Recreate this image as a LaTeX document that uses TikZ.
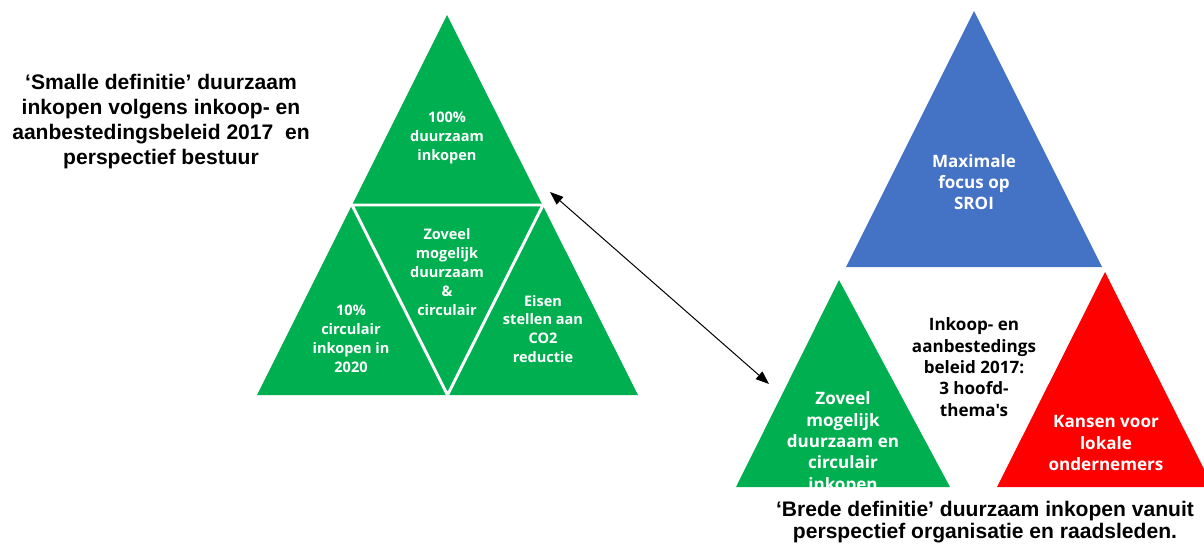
\documentclass[tikz,border=0pt]{standalone}
\usepackage{fontspec}
\setmainfont{Liberation Sans}
\newfontfamily\trifont{Open Sans}
\usetikzlibrary{arrows.meta}
\definecolor{groen}{HTML}{00B050}
\definecolor{blauw}{HTML}{4472C4}
\definecolor{rood}{HTML}{FF0000}
\tikzset{
  klein/.style={align=center, text=white, inner sep=0pt,
    font=\trifont\bfseries\fontsize{10.9}{14.2}\selectfont},
  groot/.style={align=center, text=white, inner sep=0pt,
    font=\trifont\bfseries\fontsize{12.8}{16}\selectfont},
  titel/.style={align=center, inner sep=0pt,
    font=\bfseries\fontsize{15.8}{18.75}\selectfont},
  scheiding/.style={draw=white, line width=2.2pt, line join=miter},
}
\begin{document}
\begin{tikzpicture}[x=0.75pt, y=-0.75pt, >={Triangle[length=10pt,width=7.5pt]}, line width=0.75pt]
\useasboundingbox (0,0) rectangle (1204,546);
% smalle definitie
\fill[groen] (447,15) -- (257,395) -- (638,395) -- cycle;
\draw[scheiding] (352,205) -- (543,205) -- (447.5,395) -- cycle;
\node[titel] (smal) at (161,122) {‘Smalle definitie’ duurzaam\\inkopen volgens inkoop- en\\aanbestedingsbeleid 2017\ \ en\\perspectief bestuur};
\node[klein] (honderd) at (447,138) {100\%\\duurzaam\\inkopen};
\node[klein] (midden) at (447,272) {Zoveel\\mogelijk\\duurzaam\\\&\\circulair};
\node[klein] (tien) at (351,339) {10\%\\circulair\\inkopen in\\2020};
\node[klein] (eisen) at (543,329) {Eisen\\stellen aan\\CO2\\reductie};
% brede definitie
\fill[blauw] (974,11) -- (846,267) -- (1102,267) -- cycle;
\fill[groen] (839,280) -- (736,487) -- (950,487) -- cycle;
\fill[rood] (1105,272) -- (997,487) -- (1213,487) -- cycle;
\node[groot] (sroi) at (974,182) {Maximale\\focus op\\SROI};
\node[groot, text=black] (thema) at (974,367) {Inkoop- en\\aanbestedings\\beleid 2017:\\3 hoofd-\\thema's};
\begin{scope}
\clip (700,270) rectangle (960,487.5);
\node[groot] (zoveel) at (843,443) {Zoveel\\mogelijk\\duurzaam en\\circulair\\inkopen};
\end{scope}
\node[groot] (kansen) at (1106,443) {Kansen voor\\lokale\\ondernemers};
\node[titel, font=\bfseries\fontsize{15.8}{16.5}\selectfont] (breed) at (985,522) {‘Brede definitie’ duurzaam inkopen vanuit\\perspectief organisatie en raadsleden.};
% pijl
\coordinate (a) at (550,192);
\coordinate (b) at (769,384);
\draw[<->] (a) -- (b);
\end{tikzpicture}
\end{document}
